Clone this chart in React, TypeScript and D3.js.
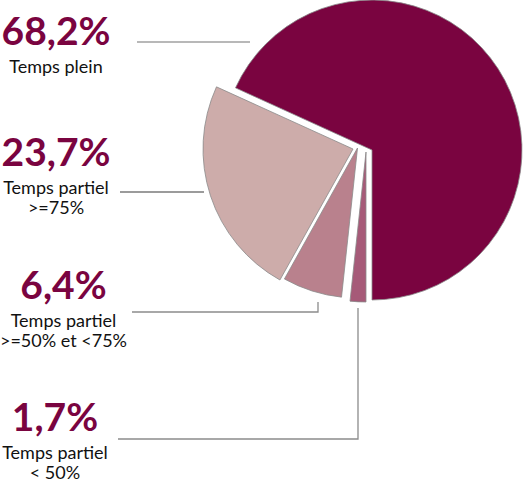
import React from "react";
import * as d3 from "d3";

// ---- data (pie order, clockwise from 6 o'clock) ----
const categories = ["Temps partiel\n< 50%", "Temps partiel\n>=50% et <75%", "Temps partiel\n>=75%", "Temps plein"];
const values = [1.7, 6.4, 23.7, 68.2];
const valueLabels = ["1,7%", "6,4%", "23,7%", "68,2%"];

// ---- styles / layout ----
const W = 524;
const H = 485;
const CX = 372;
const CY = 150;
const R = 150;
const colors = ["#a65a78", "#b9818d", "#cdacaa", "#7a0440"];
// per-slice explode offset (dx, dy)
const explode: [number, number][] = [[-6, 2], [-14.5, -2], [-19, -1], [0, 0]];
// label centre x, percentage baseline y
const labelX = [55, 63.5, 56, 56];
const labelY = [431, 299, 166, 45];
// leader polylines
const leaders: [number, number][][] = [
  [[118, 439], [358, 439], [358, 308]],
  [[132, 312], [318, 312], [318, 302]],
  [[120, 192], [204, 192]],
  [[137, 42], [250, 42]],
];
const leaderColors = ["#8c8c8c", "#8c8c8c", "#7a7a7a", "#b8b8b8"];
const leaderWidths = [1.3, 1.3, 1.3, 1.8];

export default function App() {
  const pie = d3
    .pie<number>()
    .sort(null)
    .startAngle(Math.PI)
    .endAngle(3 * Math.PI)
    .value((d) => d);
  const arcs = pie(values);
  const arc = d3.arc<d3.PieArcDatum<number>>().innerRadius(0).outerRadius(R);
  const line = d3.line();

  return (
    <svg
      width={W}
      height={H}
      style={{ position: "absolute", left: 0, top: 0, background: "#fff" }}
      fontFamily="Lato, 'Open Sans', sans-serif"
    >
      {arcs.map((a, i) => (
        <path
          key={i}
          d={arc(a) || ""}
          transform={`translate(${CX + explode[i][0]},${CY + explode[i][1]})`}
          fill={colors[i]}
          stroke="#8a8a8a"
          strokeWidth={0.8}
          strokeLinejoin="miter"
        />
      ))}
      {leaders.map((pts, i) => (
        <path
          key={"l" + i}
          d={line(pts) || ""}
          fill="none"
          stroke={leaderColors[i]}
          strokeWidth={leaderWidths[i]}
        />
      ))}
      {categories.map((c, i) => (
        <g key={"t" + i}>
          <text
            x={labelX[i]}
            y={labelY[i]}
            textAnchor="middle"
            fontSize={39}
            fontWeight={700}
            fill="#7a0440"
          >
            {valueLabels[i]}
          </text>
          {c.split("\n").map((ln, j) => (
            <text
              key={j}
              x={labelX[i]}
              y={labelY[i] + 28 + j * 20}
              textAnchor="middle"
              fontSize={18}
              fill="#111"
            >
              {ln}
            </text>
          ))}
        </g>
      ))}
    </svg>
  );
}
